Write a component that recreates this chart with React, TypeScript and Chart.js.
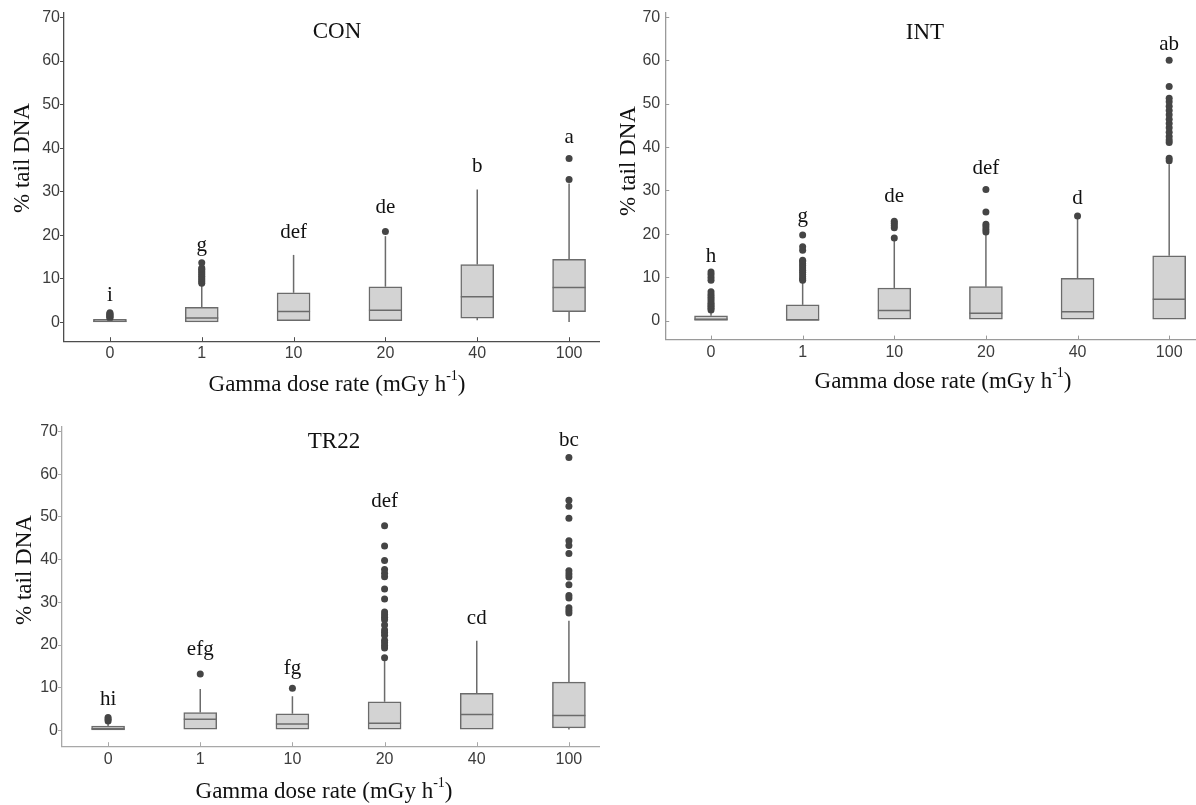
import React, { useEffect, useRef } from "react";
import { Chart, registerables } from "chart.js";

Chart.register(...registerables);

// ---------- shared categories / ticks ----------
const doseLabels = ["0", "1", "10", "20", "40", "100"];
const yTickValues = [0, 10, 20, 30, 40, 50, 60, 70];

// ---------- CON ----------
const conWhiskerLow = [0, 0, 0.3, 0.3, 0.4, 0];
const conQ1 = [0, 0, 0.3, 0.3, 0.9, 2.4];
const conMedian = [0.2, 0.9, 2.4, 2.7, 5.8, 7.9];
const conQ3 = [0.6, 3.4, 6.7, 8.1, 13.2, 14.4];
const conWhiskerHigh = [0.7, 8.4, 15.4, 19.7, 30.4, 31.8];
const conOutliers: number[][] = [
  [0.9, 1.1, 1.3, 1.5, 1.7, 1.9, 2.1],
  [8.9, 9.3, 9.7, 10.1, 10.5, 10.9, 11.3, 11.7, 12.1, 12.4, 13.6],
  [],
  [20.8],
  [],
  [32.7, 37.5],
];
const conLetters = ["i", "g", "def", "de", "b", "a"];
const conLetterY = [6.2, 17.5, 20.6, 26.2, 35.7, 42.3];

// ---------- INT ----------
const intWhiskerLow = [0, 0, 0.3, 0.3, 0.3, 0.3];
const intQ1 = [0, 0, 0.3, 0.3, 0.3, 0.3];
const intMedian = [0.3, 0.2, 2.3, 1.7, 2.0, 4.9];
const intQ3 = [1.1, 3.6, 7.5, 7.8, 9.7, 14.9];
const intWhiskerHigh = [1.8, 8.9, 18.5, 19.8, 23.6, 36.0];
const intOutliers: number[][] = [
  [2.4, 2.8, 3.2, 3.6, 4.0, 4.5, 5.0, 5.5, 6.0, 6.6, 9.3, 9.9, 10.6, 11.2],
  [9.3, 9.6, 10.1, 10.6, 11.1, 11.6, 12.1, 12.6, 13.1, 13.6, 13.9, 16.2, 17.0, 19.7],
  [19.0, 21.4, 21.9, 22.4, 22.9],
  [20.4, 21.0, 21.6, 22.2, 25.0, 30.2],
  [24.1],
  [36.8, 37.4, 41.0, 41.6, 42.4, 43.4, 44.4, 45.4, 46.4, 47.4, 48.4, 49.4, 50.4, 51.2, 53.9, 60.0],
];
const intLetters = ["h", "g", "de", "def", "d", "ab"];
const intLetterY = [14.7, 23.9, 28.6, 35.1, 28.2, 63.5];

// ---------- TR22 ----------
const tr22WhiskerLow = [0, 0.2, 0.2, 0.2, 0.2, 0.1];
const tr22Q1 = [0, 0.2, 0.2, 0.2, 0.2, 0.5];
const tr22Median = [0.3, 2.5, 1.4, 1.6, 3.6, 3.4];
const tr22Q3 = [0.9, 4.1, 3.8, 6.6, 8.6, 11.2];
const tr22WhiskerHigh = [1.5, 9.6, 7.9, 16.3, 20.9, 25.6];
const tr22Outliers: number[][] = [
  [2.1, 2.5, 2.9],
  [13.1],
  [9.8],
  [16.9, 19.2, 19.8, 20.4, 21.0, 22.2, 22.8, 23.4, 24.6, 25.8, 26.4, 27.0, 27.6, 30.7, 33.0, 35.9, 36.7, 37.6, 39.7, 43.1, 47.8],
  [],
  [27.4, 28.0, 28.6, 30.9, 31.5, 34.0, 35.8, 36.5, 37.3, 41.3, 43.2, 44.3, 49.6, 52.4, 53.8, 63.8],
];
const tr22Letters = ["hi", "efg", "fg", "def", "cd", "bc"];
const tr22LetterY = [7.2, 18.8, 14.5, 53.4, 26.2, 67.8];

// ---------- styles ----------
const BOX_FILL = "#d3d3d3";
const BOX_LINE = "#6b6b6b";
const DOT = "#454545";
const TEXT = "#111111";
const TICK_TEXT = "#3c3c3c";
const SERIF = '"Liberation Serif", "Times New Roman", serif';
const SANS = '"Liberation Sans", Arial, sans-serif';

interface Layout {
  wrapLeft: number; wrapTop: number; wrapW: number; wrapH: number;
  canvasW: number; canvasH: number;
  areaLeft: number; areaTop: number; areaRight: number; areaBottom: number;
  yMin: number; yMax: number;
  titleX: number; titleY: number;
  xTitleX: number; xTitleBaseline: number;
  yTitleX: number; yTitleY: number;
  axisColor: string; yTickDir: number;
  yLabelGap: number; xLabelGap: number;
}

interface PanelSpec {
  title: string;
  wLo: number[]; q1: number[]; med: number[]; q3: number[]; wHi: number[];
  outliers: number[][];
  letters: string[]; letterY: number[];
  layout: Layout;
}

const panels: PanelSpec[] = [
  {
    title: "CON",
    wLo: conWhiskerLow, q1: conQ1, med: conMedian, q3: conQ3, wHi: conWhiskerHigh,
    outliers: conOutliers, letters: conLetters, letterY: conLetterY,
    layout: {
      wrapLeft: 0, wrapTop: 0, wrapW: 600, wrapH: 400, canvasW: 640, canvasH: 400,
      areaLeft: 64, areaTop: 12.6, areaRight: 615, areaBottom: 341.2,
      yMin: -4.4, yMax: 71,
      titleX: 337, titleY: 32, xTitleX: 337, xTitleBaseline: 391, yTitleX: 23, yTitleY: 158,
      axisColor: "#4d4d4d", yTickDir: -1, yLabelGap: 4, xLabelGap: 12,
    },
  },
  {
    title: "INT",
    wLo: intWhiskerLow, q1: intQ1, med: intMedian, q3: intQ3, wHi: intWhiskerHigh,
    outliers: intOutliers, letters: intLetters, letterY: intLetterY,
    layout: {
      wrapLeft: 600, wrapTop: 0, wrapW: 596, wrapH: 400, canvasW: 640, canvasH: 400,
      areaLeft: 65.2, areaTop: 12.4, areaRight: 615, areaBottom: 339.6,
      yMin: -4.4, yMax: 71,
      titleX: 325, titleY: 33, xTitleX: 343, xTitleBaseline: 388, yTitleX: 29, yTitleY: 161,
      axisColor: "#9a9a9a", yTickDir: 1, yLabelGap: 5, xLabelGap: 13,
    },
  },
  {
    title: "TR22",
    wLo: tr22WhiskerLow, q1: tr22Q1, med: tr22Median, q3: tr22Q3, wHi: tr22WhiskerHigh,
    outliers: tr22Outliers, letters: tr22Letters, letterY: tr22LetterY,
    layout: {
      wrapLeft: 0, wrapTop: 405, wrapW: 600, wrapH: 400, canvasW: 640, canvasH: 400,
      areaLeft: 62, areaTop: 21.8, areaRight: 615, areaBottom: 341.2,
      yMin: -3.8, yMax: 71,
      titleX: 334, titleY: 37, xTitleX: 324, xTitleBaseline: 393, yTitleX: 25, yTitleY: 165,
      axisColor: "#a8a8a8", yTickDir: -1, yLabelGap: 4, xLabelGap: 13,
    },
  },
];

function BoxPanel({ spec }: { spec: PanelSpec }) {
  const ref = useRef<HTMLCanvasElement>(null);
  const L = spec.layout;

  useEffect(() => {
    const canvas = ref.current;
    if (!canvas) return;

    const extras = {
      id: "boxExtras",
      beforeDatasetsDraw(chart: any) {
        const ctx = chart.ctx;
        const y = chart.scales.y;
        const meta = chart.getDatasetMeta(0);
        ctx.save();
        ctx.strokeStyle = BOX_LINE;
        ctx.lineWidth = 1.5;
        spec.q1.forEach((_, i) => {
          const el = meta.data[i];
          if (!el) return;
          const px = el.x;
          ctx.beginPath();
          ctx.moveTo(px, y.getPixelForValue(spec.wLo[i]));
          ctx.lineTo(px, y.getPixelForValue(spec.q1[i]));
          ctx.moveTo(px, y.getPixelForValue(spec.q3[i]));
          ctx.lineTo(px, y.getPixelForValue(spec.wHi[i]));
          ctx.stroke();
        });
        ctx.restore();
      },
      afterDatasetsDraw(chart: any) {
        const ctx = chart.ctx;
        const y = chart.scales.y;
        const meta = chart.getDatasetMeta(0);
        ctx.save();
        ctx.strokeStyle = BOX_LINE;
        ctx.lineWidth = 1.5;
        spec.med.forEach((m, i) => {
          const el = meta.data[i];
          if (!el) return;
          const py = y.getPixelForValue(m);
          ctx.beginPath();
          ctx.moveTo(el.x - el.width / 2, py);
          ctx.lineTo(el.x + el.width / 2, py);
          ctx.stroke();
        });
        ctx.restore();
      },
      afterDraw(chart: any) {
        const ctx = chart.ctx;
        const x = chart.scales.x;
        const y = chart.scales.y;
        const area = chart.chartArea;
        ctx.save();
        // tick marks
        ctx.strokeStyle = L.axisColor;
        ctx.lineWidth = 1;
        doseLabels.forEach((_, i) => {
          const px = Math.round(x.getPixelForTick(i)) + 0.5;
          ctx.beginPath();
          ctx.moveTo(px, area.bottom);
          ctx.lineTo(px, area.bottom - 4);
          ctx.stroke();
        });
        yTickValues.forEach((v) => {
          const py = Math.round(y.getPixelForValue(v)) + 0.5;
          ctx.beginPath();
          ctx.moveTo(area.left, py);
          ctx.lineTo(area.left + L.yTickDir * 4, py);
          ctx.stroke();
        });
        // tick labels
        ctx.fillStyle = TICK_TEXT;
        ctx.font = `16px ${SANS}`;
        ctx.textAlign = "center";
        ctx.textBaseline = "middle";
        doseLabels.forEach((lab, i) => {
          ctx.fillText(lab, x.getPixelForTick(i), area.bottom + L.xLabelGap);
        });
        ctx.textAlign = "right";
        yTickValues.forEach((v) => {
          ctx.fillText(String(v), area.left - L.yLabelGap, y.getPixelForValue(v) + 0.5);
        });
        // significance letters
        ctx.fillStyle = TEXT;
        ctx.font = `21px ${SERIF}`;
        ctx.textAlign = "center";
        ctx.textBaseline = "middle";
        spec.letters.forEach((t, i) => {
          ctx.fillText(t, x.getPixelForValue(i), y.getPixelForValue(spec.letterY[i]));
        });
        // panel title
        ctx.font = `23px ${SERIF}`;
        ctx.fillText(spec.title, L.titleX, L.titleY);
        // x axis title with superscript
        const main = "Gamma dose rate (mGy h";
        const sup = "-1";
        const end = ")";
        ctx.font = `23px ${SERIF}`;
        const w1 = ctx.measureText(main).width;
        const w3 = ctx.measureText(end).width;
        ctx.font = `14px ${SERIF}`;
        const w2 = ctx.measureText(sup).width;
        const start = L.xTitleX - (w1 + w2 + w3) / 2;
        ctx.textAlign = "left";
        ctx.textBaseline = "alphabetic";
        ctx.font = `23px ${SERIF}`;
        ctx.fillText(main, start, L.xTitleBaseline);
        ctx.fillText(end, start + w1 + w2, L.xTitleBaseline);
        ctx.font = `14px ${SERIF}`;
        ctx.fillText(sup, start + w1, L.xTitleBaseline - 11);
        // y axis title
        ctx.translate(L.yTitleX, L.yTitleY);
        ctx.rotate(-Math.PI / 2);
        ctx.font = `23px ${SERIF}`;
        ctx.textAlign = "center";
        ctx.textBaseline = "middle";
        ctx.fillText("% tail DNA", 0, 0);
        ctx.restore();
      },
    };

    const outlierPoints = spec.outliers.flatMap((arr, i) =>
      arr.map((v) => ({ x: doseLabels[i], y: v }))
    );

    const chart = new Chart(canvas, {
      type: "bar",
      data: {
        labels: doseLabels,
        datasets: [
          {
            type: "bar",
            data: spec.q1.map((v, i) => [v, spec.q3[i]]),
            backgroundColor: BOX_FILL,
            borderColor: BOX_LINE,
            borderWidth: 1.5,
            borderSkipped: false,
            barThickness: 33,
            order: 2,
          } as any,
          {
            type: "scatter",
            data: outlierPoints,
            backgroundColor: DOT,
            borderColor: DOT,
            pointRadius: 3.5,
            pointBorderWidth: 0,
            showLine: false,
            order: 1,
          } as any,
        ],
      },
      options: {
        responsive: false,
        animation: false,
        events: [],
        layout: {
          padding: { top: L.areaTop, right: L.canvasW - L.areaRight, left: 0, bottom: 0 },
        },
        plugins: {
          legend: { display: false },
          tooltip: { enabled: false },
          title: { display: false },
        },
        scales: {
          x: {
            type: "category",
            offset: true,
            grid: { display: false, offset: false },
            border: { display: true, color: L.axisColor, width: 1.3 },
            ticks: { display: false, autoSkip: false, maxRotation: 0 },
            afterFit: (s: any) => {
              s.height = L.canvasH - L.areaBottom;
            },
          },
          y: {
            type: "linear",
            min: L.yMin,
            max: L.yMax,
            grid: { display: false },
            border: { display: true, color: L.axisColor, width: 1.3 },
            ticks: { display: false },
            afterBuildTicks: (s: any) => {
              s.ticks = yTickValues.map((v) => ({ value: v }));
            },
            afterFit: (s: any) => {
              s.width = L.areaLeft;
            },
          },
        },
      } as any,
      plugins: [extras],
    });

    return () => chart.destroy();
  }, [spec]);

  return (
    <div
      style={{
        position: "absolute",
        left: L.wrapLeft,
        top: L.wrapTop,
        width: L.wrapW,
        height: L.wrapH,
        overflow: "hidden",
      }}
    >
      <canvas
        ref={ref}
        width={L.canvasW}
        height={L.canvasH}
        style={{ display: "block", width: L.canvasW, height: L.canvasH }}
      />
    </div>
  );
}

export default function App() {
  return (
    <div
      style={{
        position: "absolute",
        left: 0,
        top: 0,
        width: 1196,
        height: 805,
        background: "#ffffff",
        overflow: "hidden",
      }}
    >
      {panels.map((p) => (
        <BoxPanel key={p.title} spec={p} />
      ))}
    </div>
  );
}
